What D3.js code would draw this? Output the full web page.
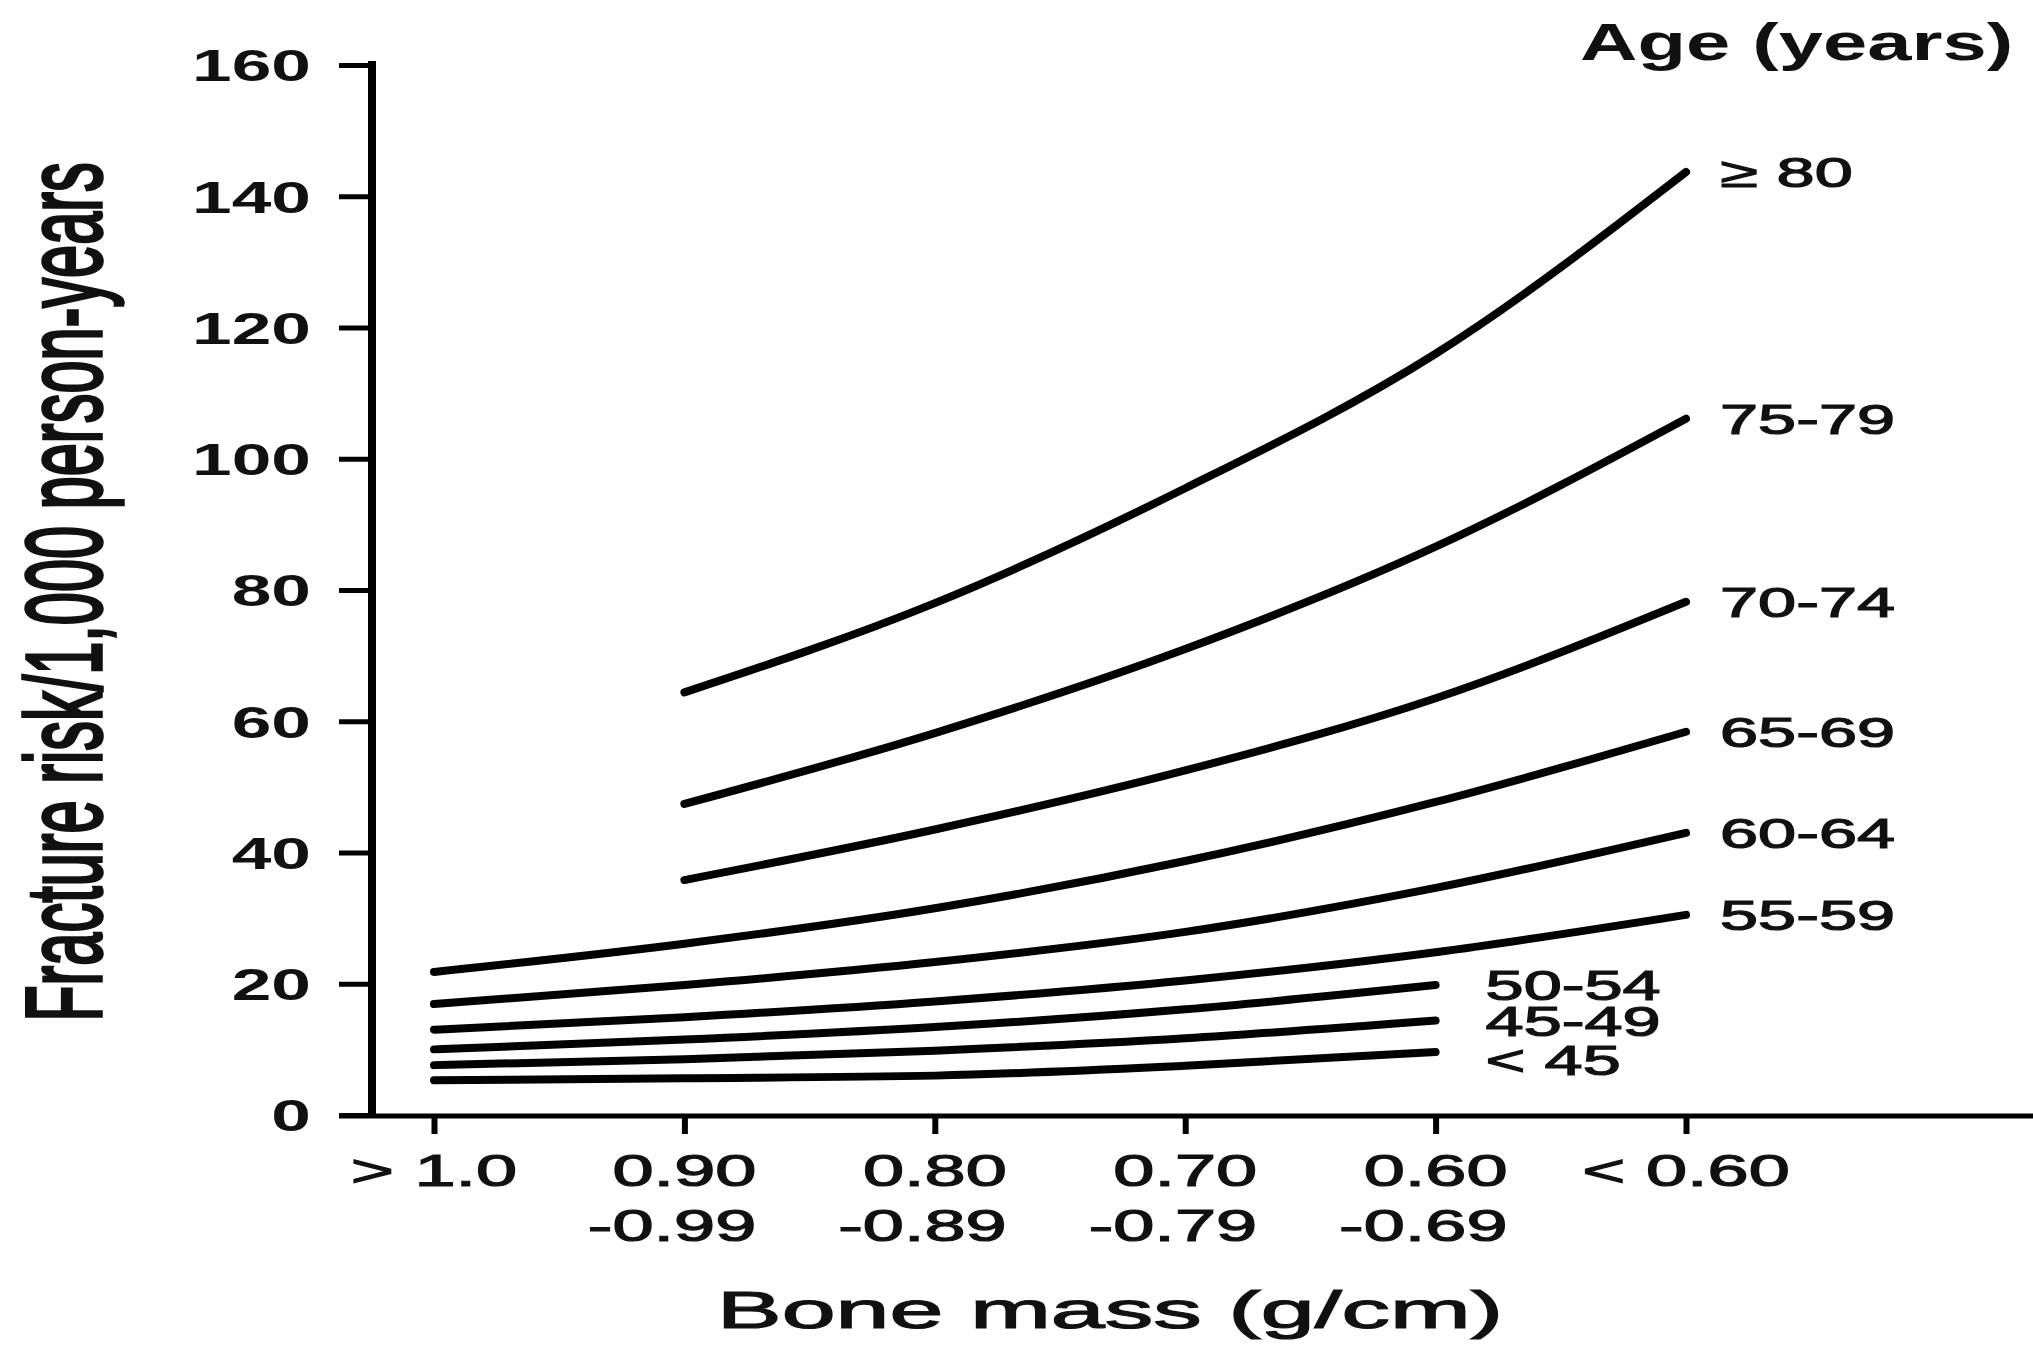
<!DOCTYPE html>
<html>
<head>
<meta charset="utf-8">
<script src="https://cdn.jsdelivr.net/npm/d3@7"></script>
<style>
  body { margin: 0; background: #fff; }
  svg text { font-family: "Liberation Sans", Arial, Helvetica, sans-serif; fill: #111; }
  svg text.heavy { stroke: #111; stroke-width: 1.2px; }
</style>
</head>
<body>
<div id="chart"></div>
<script>
// Bone mass groups (g/cm), printed on two lines under each tick
let massGroups    = ["> 1.0", "0.90", "0.80", "0.70", "0.60", "< 0.60"];
let massGroupsLow = ["", "-0.99", "-0.89", "-0.79", "-0.69", ""];

let riskTicks = [0, 20, 40, 60, 80, 100, 120, 140, 160];

let ageGroups = ["< 45", "45-49", "50-54", "55-59", "60-64", "65-69", "70-74", "75-79", "\u2265 80"];

// fracture risk per 1,000 person-years, one value per bone mass group (null = no curve there)
let riskUnder45 = [5.3, 5.6, 6.0, 7.5, 9.6, null];
let risk45to49  = [7.6, 8.5, 9.8, 11.7, 14.4, null];
let risk50to54  = [10.0, 11.5, 13.4, 16.1, 19.8, null];
let risk55to59  = [13.0, 14.9, 17.3, 20.5, 24.8, 30.5];
let risk60to64  = [16.9, 19.8, 23.3, 27.9, 34.6, 43.0];
let risk65to69  = [21.8, 26.1, 31.5, 38.7, 47.7, 58.4];
let risk70to74  = [null, 35.8, 43.5, 52.5, 63.5, 78.2];
let risk75to79  = [null, 47.4, 58.2, 71.0, 86.6, 106.1];
let risk80plus  = [null, 64.4, 78.0, 95.5, 116.0, 143.7];

let series = [riskUnder45, risk45to49, risk50to54, risk55to59, risk60to64,
              risk65to69, risk70to74, risk75to79, risk80plus];

let width = 2033,
    height = 1348;

// the scanned figure is stretched sideways, so text is widened with scale()
let axisLeftX = 372,
    axisBottomY = 1115;

let x = d3.scalePoint()
    .domain(massGroups)
    .range([434, 1686]);

let y = d3.scaleLinear()
    .domain([0, 160])
    .range([axisBottomY, 65]);

let svg = d3.select("#chart")
    .append("svg")
    .attr("width", width)
    .attr("height", height);

// y axis
let yAxis = svg.append("g")
    .attr("transform", "translate(" + axisLeftX + ",0)")
    .call(d3.axisLeft(y).tickValues(riskTicks).tickSize(33).tickFormat(d3.format("d")));

yAxis.select(".domain").remove();
yAxis.selectAll(".tick line")
    .attr("stroke", "#000")
    .attr("stroke-width", 5);
yAxis.selectAll(".tick text")
    .attr("x", null)
    .attr("dy", "0.36em")
    .attr("transform", "translate(-61,0) scale(1.62,1)")
    .attr("text-anchor", "end")
    .style("font-size", "44px")
    .style("font-weight", "bold");

svg.append("line")
    .attr("x1", axisLeftX).attr("x2", axisLeftX)
    .attr("y1", 61).attr("y2", axisBottomY + 2)
    .attr("stroke", "#000")
    .attr("stroke-width", 8);

// x axis
let xAxis = svg.append("g")
    .attr("transform", "translate(0," + axisBottomY + ")")
    .call(d3.axisBottom(x).tickSize(19).tickFormat(""));

xAxis.select(".domain").remove();
xAxis.selectAll(".tick line")
    .attr("stroke", "#000")
    .attr("stroke-width", 6);

svg.append("line")
    .attr("x1", 339).attr("x2", width)
    .attr("y1", axisBottomY + 1).attr("y2", axisBottomY + 1)
    .attr("stroke", "#000")
    .attr("stroke-width", 5);

let xScaleText = 1.68;

let tickLabels = svg.append("g")
    .selectAll("g")
    .data(massGroups)
    .enter().append("g");

tickLabels.append("text")
    .attr("class", "top heavy")
    .attr("transform", function(d) { return "translate(" + x(d) + ",1186) scale(" + xScaleText + ",1)"; })
    .attr("text-anchor", "middle")
    .style("font-size", "44px")
    .text(function(d) { return d; });

// second line is right-aligned with the first one
tickLabels.append("text")
    .attr("class", "heavy")
    .attr("transform", function(d, i) {
      let topWidth = this.parentNode.querySelector(".top").getComputedTextLength() * xScaleText;
      return "translate(" + (x(d) + topWidth / 2) + ",1241) scale(" + xScaleText + ",1)";
    })
    .attr("text-anchor", "end")
    .style("font-size", "44px")
    .text(function(d, i) { return massGroupsLow[i]; });

// axis titles
svg.append("text")
    .attr("class", "heavy")
    .attr("transform", "translate(1110,1328) scale(1.9,1)")
    .attr("text-anchor", "middle")
    .style("font-size", "51px")
    .text("Bone mass (g/cm)");

svg.append("text")
    .attr("transform", "translate(101,592) rotate(-90) scale(1,1.8)")
    .attr("text-anchor", "middle")
    .style("font-size", "59.5px")
    .style("stroke", "#111")
    .style("stroke-width", "2px")
    .text("Fracture risk/1,000 person-years");

svg.append("text")
    .attr("transform", "translate(1580,60) scale(1.53,1)")
    .style("font-size", "52px")
    .style("font-weight", "bold")
    .text("Age (years)");

// curves
let line = d3.line()
    .defined(function(d) { return d != null; })
    .x(function(d, i) { return x(massGroups[i]); })
    .y(function(d) { return y(d); })
    .curve(d3.curveMonotoneX);

svg.append("g")
    .selectAll("path")
    .data(series)
    .enter().append("path")
    .attr("d", line)
    .attr("fill", "none")
    .attr("stroke", "#000")
    .attr("stroke-width", 8)
    .attr("stroke-linecap", "round");

// age labels at the end of each curve
function lastIndex(values) {
  let k = values.length - 1;
  while (values[k] == null) k--;
  return k;
}

svg.append("g")
    .selectAll("text")
    .data(series)
    .enter().append("text")
    .attr("class", "heavy")
    .attr("transform", function(d, i) {
      let k = lastIndex(d);
      let gap = k === massGroups.length - 1 ? 34 : 50;
      let nudge = i === 0 ? 8 : 0; // "< 45" sits a little below its curve
      return "translate(" + (x(massGroups[k]) + gap) + "," + (y(d[k]) + nudge) + ") scale(1.63,1)";
    })
    .attr("dy", "0.36em")
    .style("font-size", "42px")
    .text(function(d, i) { return ageGroups[i]; });
</script>
</body>
</html>
